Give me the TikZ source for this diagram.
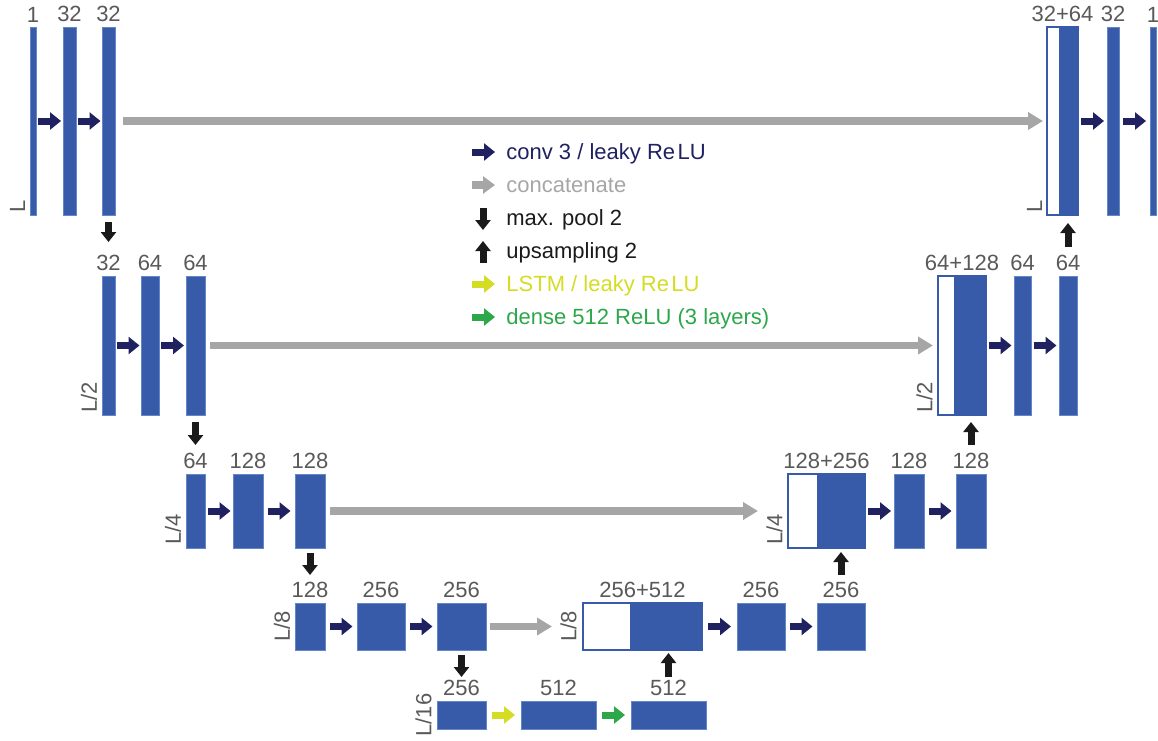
\documentclass[tikz,border=0pt]{standalone}
\usepackage{fontspec}
\setmainfont{Liberation Sans}
\usetikzlibrary{arrows.meta,calc,fit}

\definecolor{boxblue}{RGB}{55,91,169}
\definecolor{boxedge}{RGB}{100,135,200}
\definecolor{convc}{RGB}{31,33,96}
\definecolor{catc}{RGB}{166,166,166}
\definecolor{poolc}{RGB}{26,26,26}
\definecolor{lstmc}{RGB}{212,220,35}
\definecolor{densec}{RGB}{44,168,75}
\definecolor{labc}{RGB}{89,89,89}

\newcommand\myharrow[3]{\draw[#1] ($(#2.east)!.5!(#3.west)+(-11.5,0)$) -- ($(#2.east)!.5!(#3.west)+(11.5,0)$);}

\begin{document}
\begin{tikzpicture}[x=0.5pt,y=-0.5pt,
  blk/.style={fill=boxblue, draw=boxedge, line width=0.4pt, inner sep=0pt, outer sep=0pt},
  catbox/.style={fill=white, draw=boxblue, line width=0.9pt, inner sep=0pt, outer sep=0pt},
  bluepart/.style={fill=boxblue, draw=none, inner sep=0pt, outer sep=0pt},
  lab/.style={text=labc, font=\fontsize{11}{13}\selectfont, inner sep=0pt, anchor=south},
  side/.style={text=labc, font=\fontsize{11}{13}\selectfont, inner sep=0pt, rotate=90},
  legtext/.style={font=\fontsize{11}{13}\selectfont, inner sep=0pt, anchor=base west},
  conv/.style={draw=convc, line width=3.5pt, -{Triangle[width=8.5pt,length=5.5pt]}},
  lstm/.style={draw=lstmc, line width=3.5pt, -{Triangle[width=8.5pt,length=5.5pt]}},
  dense/.style={draw=densec, line width=3.5pt, -{Triangle[width=8.5pt,length=5.5pt]}},
  concat/.style={draw=catc, line width=3.75pt, -{Triangle[width=8.5pt,length=7.5pt]}},
  pool/.style={draw=poolc, line width=3.5pt, -{Triangle[width=7.5pt,length=5pt]}},
]
\useasboundingbox (0,0) rectangle (1158,740);

% ---------- Row 1 (L)
\node[blk, fit={(30,27)(36,215)}] (a1) {};
\node[blk, fit={(63,27)(76,215)}] (b1) {};
\node[blk, fit={(102,27)(115,215)}] (c1) {};
\node[catbox, fit={(1047,27)(1078,215)}] (cat1) {};
\node[bluepart, fit={(1059,27)(1078,215)}] (cb1) {};
\node[blk, fit={(1107,27)(1119,215)}] (d1) {};
\node[blk, fit={(1150,27)(1156,215)}] (e1) {};

% ---------- Row 2 (L/2)
\node[blk, fit={(102,276)(115,415)}] (a2) {};
\node[blk, fit={(141,276)(159,415)}] (b2) {};
\node[blk, fit={(186,276)(205,415)}] (c2) {};
\node[catbox, fit={(938,276)(986,415)}] (cat2) {};
\node[bluepart, fit={(954,276)(986,415)}] (cb2) {};
\node[blk, fit={(1014,276)(1031,415)}] (d2) {};
\node[blk, fit={(1059,276)(1077,415)}] (e2) {};

% ---------- Row 3 (L/4)
\node[blk, fit={(186,474)(205,548)}] (a3) {};
\node[blk, fit={(233,474)(263,548)}] (b3) {};
\node[blk, fit={(295,474)(325,548)}] (c3) {};
\node[catbox, fit={(788,474)(865,548)}] (cat3) {};
\node[bluepart, fit={(817,474)(865,548)}] (cb3) {};
\node[blk, fit={(894,474)(924,548)}] (d3) {};
\node[blk, fit={(956,474)(986,548)}] (e3) {};

% ---------- Row 4 (L/8)
\node[blk, fit={(295,603)(325,650)}] (a4) {};
\node[blk, fit={(357,603)(405,650)}] (b4) {};
\node[blk, fit={(437,603)(486,650)}] (c4) {};
\node[catbox, fit={(583,603)(702,650)}] (cat4) {};
\node[bluepart, fit={(630,603)(702,650)}] (cb4) {};
\node[blk, fit={(737,603)(785,650)}] (d4) {};
\node[blk, fit={(817,603)(865,650)}] (e4) {};

% ---------- Row 5 (L/16)
\node[blk, fit={(437,701)(486,729)}] (a5) {};
\node[blk, fit={(521,701)(596,729)}] (b5) {};
\node[blk, fit={(631,701)(706,729)}] (c5) {};

% ---------- channel labels
\foreach \n/\t in {a1/1,b1/32,c1/32,cat1/32+64,d1/32,e1/1,
                   a2/32,b2/64,c2/64,cat2/64+128,d2/64,e2/64,
                   a3/64,b3/128,c3/128,cat3/128+256,d3/128,e3/128,
                   a4/128,b4/256,c4/256,cat4/256+512,d4/256,e4/256,
                   a5/256,b5/512,c5/512}
  \node[lab] (l\n) at ($(\n.north)+(0,-4.5)$) {\t};

% ---------- side (length) labels
\node[side, anchor=south west] (sa1) at ($(a1.south west)+(-4.5,-2)$) {L};
\node[side, anchor=south west] (scat1) at ($(cat1.south west)+(-4.5,-2)$) {L};
\node[side, anchor=south west] (sa2) at ($(a2.south west)+(-4.5,-2)$) {L/2};
\node[side, anchor=south west] (scat2) at ($(cat2.south west)+(-5,-2)$) {L/2};
\node[side, anchor=south west] (sa3) at ($(a3.south west)+(-4.5,-3)$) {L/4};
\node[side, anchor=south west] (scat3) at ($(cat3.south west)+(-5,-3)$) {L/4};
\node[side, anchor=south] (sa4) at ($(a4.west)+(-4.5,0)$) {L/8};
\node[side, anchor=south] (scat4) at ($(cat4.west)+(-6,0)$) {L/8};
\node[side, anchor=south] (sa5) at ($(a5.west)+(-5,0)$) {L/16};

% ---------- conv arrows
\myharrow{conv}{a1}{b1} \myharrow{conv}{b1}{c1}
\myharrow{conv}{cat1}{d1} \myharrow{conv}{d1}{e1}
\myharrow{conv}{a2}{b2} \myharrow{conv}{b2}{c2}
\myharrow{conv}{cat2}{d2} \myharrow{conv}{d2}{e2}
\myharrow{conv}{a3}{b3} \myharrow{conv}{b3}{c3}
\myharrow{conv}{cat3}{d3} \myharrow{conv}{d3}{e3}
\myharrow{conv}{a4}{b4} \myharrow{conv}{b4}{c4}
\myharrow{conv}{cat4}{d4} \myharrow{conv}{d4}{e4}
\myharrow{lstm}{a5}{b5} \myharrow{dense}{b5}{c5}

% ---------- concatenation (skip) arrows
\draw[concat, shorten <=4pt, shorten >=2pt] (c1.east) -- (cat1.west);
\draw[concat, shorten <=2.5pt, shorten >=2.5pt] (c2.east) -- (cat2.west);
\draw[concat, shorten <=2.5pt, shorten >=15pt] (c3.east) -- (cat3.west);
\draw[concat, shorten <=2pt, shorten >=15.5pt] (c4.east) -- (cat4.west);

% ---------- max pool arrows
\draw[pool] ($(c1.south)+(0,7)$) -- ($(c1.south |- a2.north)+(0,-34)$);
\draw[pool] ($(c2.south)+(0,7)$) -- ($(c2.south |- a3.north)+(0,-29)$);
\draw[pool] ($(c3.south)+(0,5)$) -- ($(c3.south |- a4.north)+(0,-28)$);
\draw[pool] ($(c4.south)+(0,5)$) -- ($(c4.south |- a5.north)+(0,-24)$);

% ---------- upsampling arrows
\draw[pool] ($(c5.north |- cat4.south)+(0,27)$) -- ($(c5.north |- cat4.south)+(0,3)$);
\draw[pool] ($(e4.north |- cat3.south)+(0,27)$) -- ($(e4.north |- cat3.south)+(0,4)$);
\draw[pool] ($(e3.north |- cat2.south)+(0,30)$) -- ($(e3.north |- cat2.south)+(0,7)$);
\draw[pool] ($(e2.north |- cat1.south)+(0,32)$) -- ($(e2.north |- cat1.south)+(0,8)$);

% ---------- legend
\coordinate (k1s) at (472,152); \coordinate (k1e) at (495,152);
\coordinate (k2s) at (472,185); \coordinate (k2e) at (495,185);
\coordinate (k3s) at (483,208); \coordinate (k3e) at (483,230);
\coordinate (k4s) at (483,263); \coordinate (k4e) at (483,241);
\coordinate (k5s) at (472,284); \coordinate (k5e) at (495,284);
\coordinate (k6s) at (472,317); \coordinate (k6e) at (495,317);
\draw[conv] (k1s) -- (k1e);
\draw[concat, -{Triangle[width=8.5pt,length=6pt]}] (k2s) -- (k2e);
\draw[pool] (k3s) -- (k3e);
\draw[pool] (k4s) -- (k4e);
\draw[lstm] (k5s) -- (k5e);
\draw[dense] (k6s) -- (k6e);
\node[legtext, text=convc] (t1) at (506,159) {conv 3 / leaky Re\kern1.2pt LU};
\node[legtext, text=catc] (t2) at (506,192) {concatenate};
\node[legtext, text=poolc] (t3) at (506,225) {max. pool 2};
\node[legtext, text=poolc] (t4) at (506,258) {upsampling 2};
\node[legtext, text=lstmc] (t5) at (506,291) {LSTM / leaky Re\kern1.2pt LU};
\node[legtext, text=densec] (t6) at (506,324) {dense 512 ReLU (3 layers)};
\end{tikzpicture}
\end{document}
